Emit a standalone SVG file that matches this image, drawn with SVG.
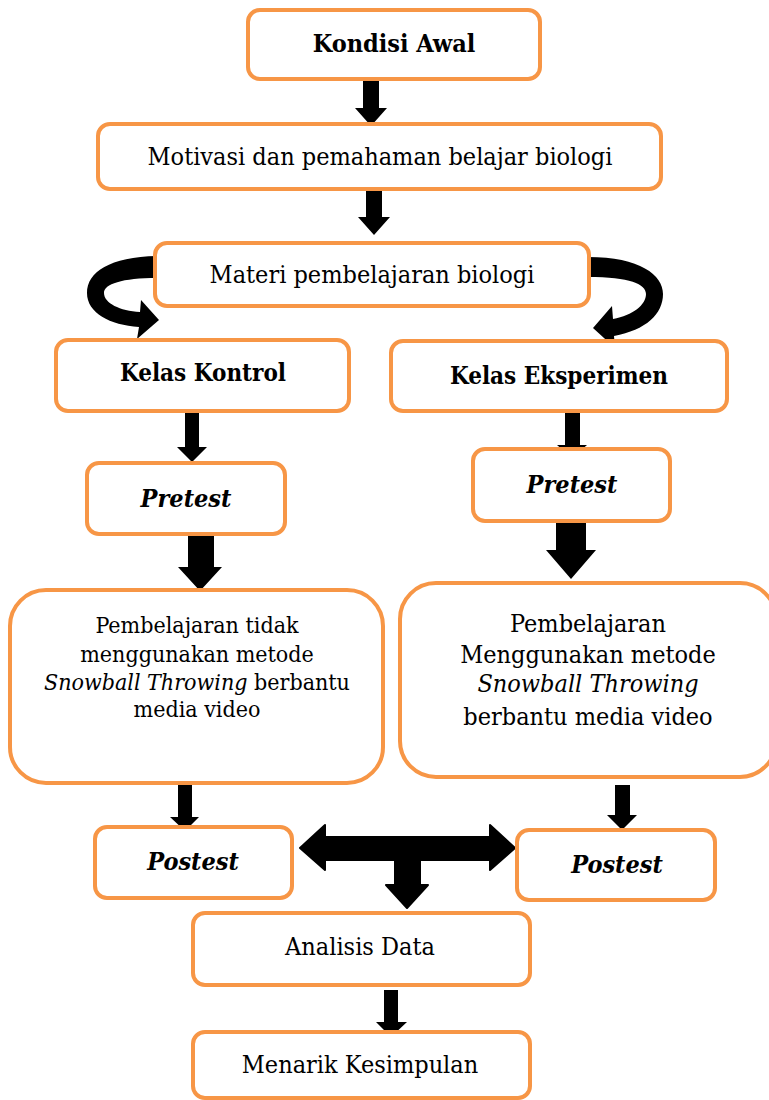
<svg xmlns="http://www.w3.org/2000/svg" width="769" height="1100" viewBox="0 0 769 1100">
<style>
.box{fill:#fff;stroke:#F79646;stroke-width:4}
.t{font-family:"DejaVu Serif Condensed","DejaVu Serif","Liberation Serif",serif;font-stretch:condensed;font-size:25px;fill:#000;text-anchor:middle}
.b{font-weight:bold}
.i{font-style:italic}
.s{font-size:23px}
.k{font-size:24px}
.arr{fill:#000}
</style>
<rect width="769" height="1100" fill="#fff"/>
<g id="connectors" class="arr">
<path d="M363,79 H379 V108 H387 L371,126 L355,108 H363 Z"/>
<path d="M366,189 H382 V217 H390 L374,235 L358,217 H366 Z"/>
<path d="M157,256 C110,257 87,272 87,293 C87,313 110,325 139,327 L137,339 L159,320 L141,300 L140,312 C120,311 104,303 104,293 C104,284 122,278 157,278 Z"/>
<path d="M588,257 C640,257 663,275 663,294 C663,314 646,330 614,336 L615,348 L593,328 L612,306 L613,319 C633,315 646,305 646,294 C646,284 630,277 588,277 Z"/>
<path d="M185,413 H199 V447 H207 L192,462 L177,447 H185 Z"/>
<path d="M565,413 H580 V445 H587 L572,458 L557,445 H565 Z"/>
<path d="M188,535 H214 V567 H222 L200,591 L178,567 H188 Z"/>
<path d="M556,522 H586 V550 H596 L571,579 L546,550 H556 Z"/>
<path d="M178,785 H192 V817 H199 L185,831 L170,817 H178 Z"/>
<path d="M615,785 H630 V815 H637 L622,830 L607,815 H615 Z"/>
<path d="M300,848 L325,825 V837 H490 V825 L515,848 L490,870 V860 H420 V885 H428 L407,908 L386,885 H395 V860 H325 V870 Z" stroke="#000" stroke-width="2" stroke-linejoin="round"/>
<path d="M384,990 H398 V1022 H407 L391,1037 L376,1022 H384 Z"/>
</g>
<g id="n1"><rect class="box" x="248" y="10" width="292" height="69" rx="12"/><text class="t b" x="394" y="52">Kondisi Awal</text></g>
<g id="n2"><rect class="box" x="98" y="124" width="563" height="65" rx="12"/><text class="t" x="380" y="165">Motivasi dan pemahaman belajar biologi</text></g>
<g id="n3"><rect class="box" x="155" y="243" width="434" height="63" rx="12"/><text class="t" x="372" y="283">Materi pembelajaran biologi</text></g>
<g id="n4"><rect class="box" x="56" y="340" width="293" height="71" rx="12"/><text class="t b k" x="203" y="381">Kelas Kontrol</text></g>
<g id="n5"><rect class="box" x="391" y="341" width="336" height="70" rx="12"/><text class="t b k" x="559" y="384">Kelas Eksperimen</text></g>
<g id="n6"><rect class="box" x="87" y="463" width="198" height="71" rx="12"/><text class="t b i" x="186" y="507">Pretest</text></g>
<g id="n7"><rect class="box" x="473" y="449" width="197" height="72" rx="12"/><text class="t b i" x="572" y="493">Pretest</text></g>
<g id="n8"><rect class="box" x="10" y="590" width="373" height="193" rx="36"/>
<text class="t s" x="197" y="633">Pembelajaran tidak</text>
<text class="t s" x="197" y="662">menggunakan metode</text>
<text class="t s" x="197" y="690"><tspan class="i">Snowball Throwing</tspan> berbantu</text>
<text class="t s" x="197" y="717">media video</text></g>
<g id="n9"><rect class="box" x="400" y="583" width="376" height="194" rx="36"/>
<text class="t" x="588" y="632">Pembelajaran</text>
<text class="t" x="588" y="663">Menggunakan metode</text>
<text class="t i" x="588" y="692">Snowball Throwing</text>
<text class="t" x="588" y="725">berbantu media video</text></g>
<g id="n10"><rect class="box" x="95" y="827" width="197" height="71" rx="12"/><text class="t b i" x="193" y="870">Postest</text></g>
<g id="n11"><rect class="box" x="517" y="830" width="198" height="70" rx="12"/><text class="t b i" x="617" y="873">Postest</text></g>
<g id="n12"><rect class="box" x="193" y="913" width="337" height="72" rx="12"/><text class="t" x="360" y="955">Analisis Data</text></g>
<g id="n13"><rect class="box" x="193" y="1032" width="337" height="66" rx="12"/><text class="t" x="360" y="1073">Menarik Kesimpulan</text></g>
</svg>
